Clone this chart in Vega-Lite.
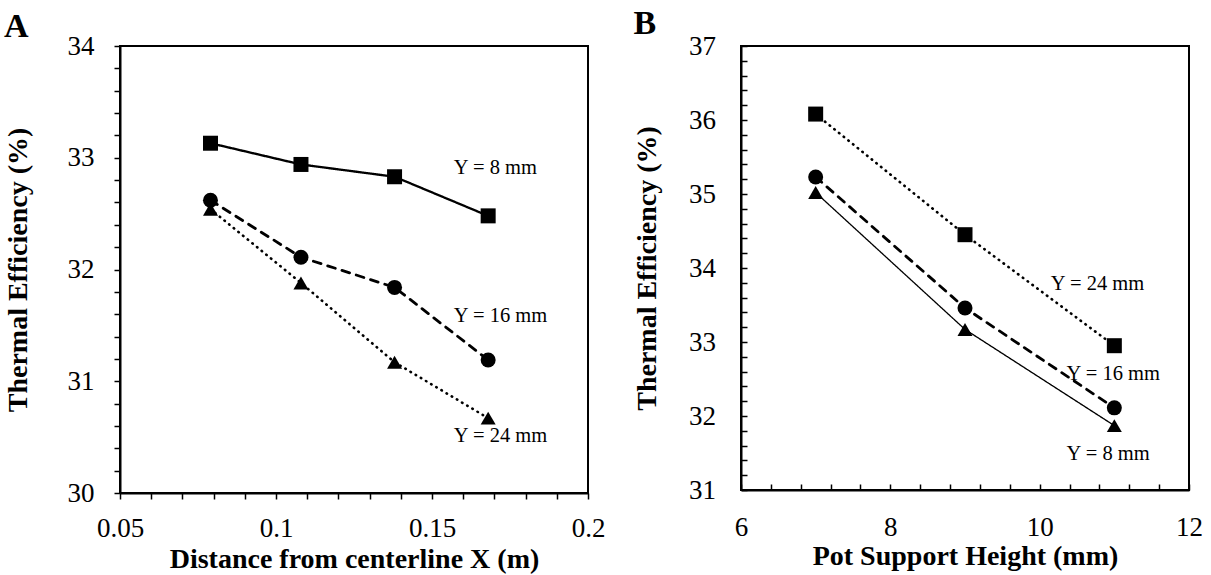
{
  "$schema": "https://vega.github.io/schema/vega-lite/v6.json",
  "background": "white",
  "padding": {"left": 3, "top": 6, "right": 5, "bottom": 0},
  "config": {
    "font": "Liberation Serif",
    "view": {"stroke": "black", "strokeWidth": 2},
    "axis": {
      "grid": false,
      "domainColor": "black",
      "domainWidth": 2,
      "tickColor": "black",
      "tickWidth": 1.5,
      "labelColor": "black",
      "labelFont": "Liberation Serif",
      "labelFontSize": 27,
      "labelOverlap": false,
      "labelFlush": false,
      "titleFont": "Liberation Serif",
      "titleFontSize": 28,
      "titleFontWeight": "bold",
      "titleColor": "black"
    },
    "title": {"font": "Liberation Serif", "fontSize": 34, "fontWeight": "bold", "color": "black", "anchor": "start", "frame": "bounds"}
  },
  "datasets": {
    "a": [
      {"x": 0.079, "eff": 33.13, "series": "Y = 8 mm"},
      {"x": 0.108, "eff": 32.94, "series": "Y = 8 mm"},
      {"x": 0.138, "eff": 32.83, "series": "Y = 8 mm"},
      {"x": 0.168, "eff": 32.48, "series": "Y = 8 mm"},
      {"x": 0.079, "eff": 32.62, "series": "Y = 16 mm"},
      {"x": 0.108, "eff": 32.11, "series": "Y = 16 mm"},
      {"x": 0.138, "eff": 31.84, "series": "Y = 16 mm"},
      {"x": 0.168, "eff": 31.19, "series": "Y = 16 mm"},
      {"x": 0.079, "eff": 32.54, "series": "Y = 24 mm"},
      {"x": 0.108, "eff": 31.88, "series": "Y = 24 mm"},
      {"x": 0.138, "eff": 31.17, "series": "Y = 24 mm"},
      {"x": 0.168, "eff": 30.67, "series": "Y = 24 mm"}
    ],
    "alab": [
      {"x": 0.157, "eff": 32.91, "label": "Y = 8 mm"},
      {"x": 0.157, "eff": 31.58, "label": "Y = 16 mm"},
      {"x": 0.157, "eff": 30.51, "label": "Y = 24 mm"}
    ],
    "b": [
      {"h": 7, "eff": 36.08, "series": "Y = 24 mm"},
      {"h": 9, "eff": 34.45, "series": "Y = 24 mm"},
      {"h": 11, "eff": 32.95, "series": "Y = 24 mm"},
      {"h": 7, "eff": 35.23, "series": "Y = 16 mm"},
      {"h": 9, "eff": 33.46, "series": "Y = 16 mm"},
      {"h": 11, "eff": 32.11, "series": "Y = 16 mm"},
      {"h": 7, "eff": 35.02, "series": "Y = 8 mm"},
      {"h": 9, "eff": 33.17, "series": "Y = 8 mm"},
      {"h": 11, "eff": 31.87, "series": "Y = 8 mm"}
    ],
    "blab": [
      {"h": 10.15, "eff": 33.79, "label": "Y = 24 mm"},
      {"h": 10.36, "eff": 32.57, "label": "Y = 16 mm"},
      {"h": 10.36, "eff": 31.48, "label": "Y = 8 mm"}
    ]
  },
  "resolve": {"scale": {"x": "independent", "y": "independent", "shape": "independent", "strokeDash": "independent", "strokeWidth": "independent"}},
  "spacing": 26,
  "hconcat": [
    {
      "title": {"text": "A", "offset": -12},
      "width": 468,
      "height": 447,
      "encoding": {
        "x": {"field": "x", "type": "quantitative",
          "scale": {"domain": [0.05, 0.2], "nice": false, "zero": false},
          "axis": {"title": "Distance from centerline X (m)",
            "values": [0.05,0.06,0.07,0.08,0.09,0.1,0.11,0.12,0.13,0.14,0.15,0.16,0.17,0.18,0.19,0.2],
            "labelExpr": "abs(datum.value*20 - round(datum.value*20)) < 0.001 ? format(datum.value, '~g') : ''",
            "tickSize": 6, "labelPadding": 16, "titlePadding": 4}},
        "y": {"field": "eff", "type": "quantitative",
          "scale": {"domain": [30, 34], "nice": false, "zero": false},
          "axis": {"title": "Thermal Efficiency (%)",
            "values": [30,30.2,30.4,30.6,30.8,31,31.2,31.4,31.6,31.8,32,32.2,32.4,32.6,32.8,33,33.2,33.4,33.6,33.8,34],
            "labelExpr": "abs(datum.value - round(datum.value)) < 0.001 ? format(datum.value, 'd') : ''",
            "tickSize": 6, "labelPadding": 20, "titlePadding": 35}}
      },
      "layer": [
        {
          "data": {"name": "a"},
          "mark": {"type": "line", "color": "black", "strokeCap": "round"},
          "encoding": {
            "detail": {"field": "series"},
            "strokeDash": {"field": "series", "legend": null,
              "scale": {"domain": ["Y = 8 mm", "Y = 16 mm", "Y = 24 mm"], "range": [[1, 0], [8, 7], [0.5, 5.5]]}},
            "strokeWidth": {"field": "series", "legend": null,
              "scale": {"type": "ordinal", "domain": ["Y = 8 mm", "Y = 16 mm", "Y = 24 mm"], "range": [2.3, 2.8, 2.6]}}
          }
        },
        {
          "data": {"name": "a"},
          "mark": {"type": "point", "filled": true, "color": "black", "opacity": 1, "size": 225},
          "encoding": {
            "shape": {"field": "series", "legend": null,
              "scale": {"domain": ["Y = 8 mm", "Y = 16 mm", "Y = 24 mm"], "range": ["square", "circle", "triangle-up"]}}
          }
        },
        {
          "data": {"name": "alab"},
          "mark": {"type": "text", "align": "left", "baseline": "middle", "fontSize": 20.5, "font": "Liberation Serif", "color": "black"},
          "encoding": {"text": {"field": "label"}}
        }
      ]
    },
    {
      "title": {"text": "B", "offset": -9},
      "width": 448,
      "height": 444,
      "encoding": {
        "x": {"field": "h", "type": "quantitative",
          "scale": {"domain": [6, 12], "nice": false, "zero": false},
          "axis": {"title": "Pot Support Height (mm)",
            "values": [6,6.4,6.8,7.2,7.6,8,8.4,8.8,9.2,9.6,10,10.4,10.8,11.2,11.6,12],
            "labelExpr": "abs(datum.value/2 - round(datum.value/2)) < 0.001 ? format(datum.value, 'd') : ''",
            "tickSize": -6, "labelPadding": 30, "titlePadding": 2}},
        "y": {"field": "eff", "type": "quantitative",
          "scale": {"domain": [31, 37], "nice": false, "zero": false},
          "axis": {"title": "Thermal Efficiency (%)",
            "values": [31,31.2,31.4,31.6,31.8,32,32.2,32.4,32.6,32.8,33,33.2,33.4,33.6,33.8,34,34.2,34.4,34.6,34.8,35,35.2,35.4,35.6,35.8,36,36.2,36.4,36.6,36.8,37],
            "labelExpr": "abs(datum.value - round(datum.value)) < 0.001 ? format(datum.value, 'd') : ''",
            "tickSize": -6, "labelPadding": 31.5, "titlePadding": 27}}
      },
      "layer": [
        {
          "data": {"name": "b"},
          "mark": {"type": "line", "color": "black", "strokeCap": "round"},
          "encoding": {
            "detail": {"field": "series"},
            "strokeDash": {"field": "series", "legend": null,
              "scale": {"domain": ["Y = 24 mm", "Y = 16 mm", "Y = 8 mm"], "range": [[0.5, 5.5], [8, 7], [1, 0]]}},
            "strokeWidth": {"field": "series", "legend": null,
              "scale": {"type": "ordinal", "domain": ["Y = 24 mm", "Y = 16 mm", "Y = 8 mm"], "range": [2.6, 2.8, 1.3]}}
          }
        },
        {
          "data": {"name": "b"},
          "mark": {"type": "point", "filled": true, "color": "black", "opacity": 1, "size": 225},
          "encoding": {
            "shape": {"field": "series", "legend": null,
              "scale": {"domain": ["Y = 24 mm", "Y = 16 mm", "Y = 8 mm"], "range": ["square", "circle", "triangle-up"]}}
          }
        },
        {
          "data": {"name": "blab"},
          "mark": {"type": "text", "align": "left", "baseline": "middle", "fontSize": 20.5, "font": "Liberation Serif", "color": "black"},
          "encoding": {"text": {"field": "label"}}
        }
      ]
    }
  ]
}
